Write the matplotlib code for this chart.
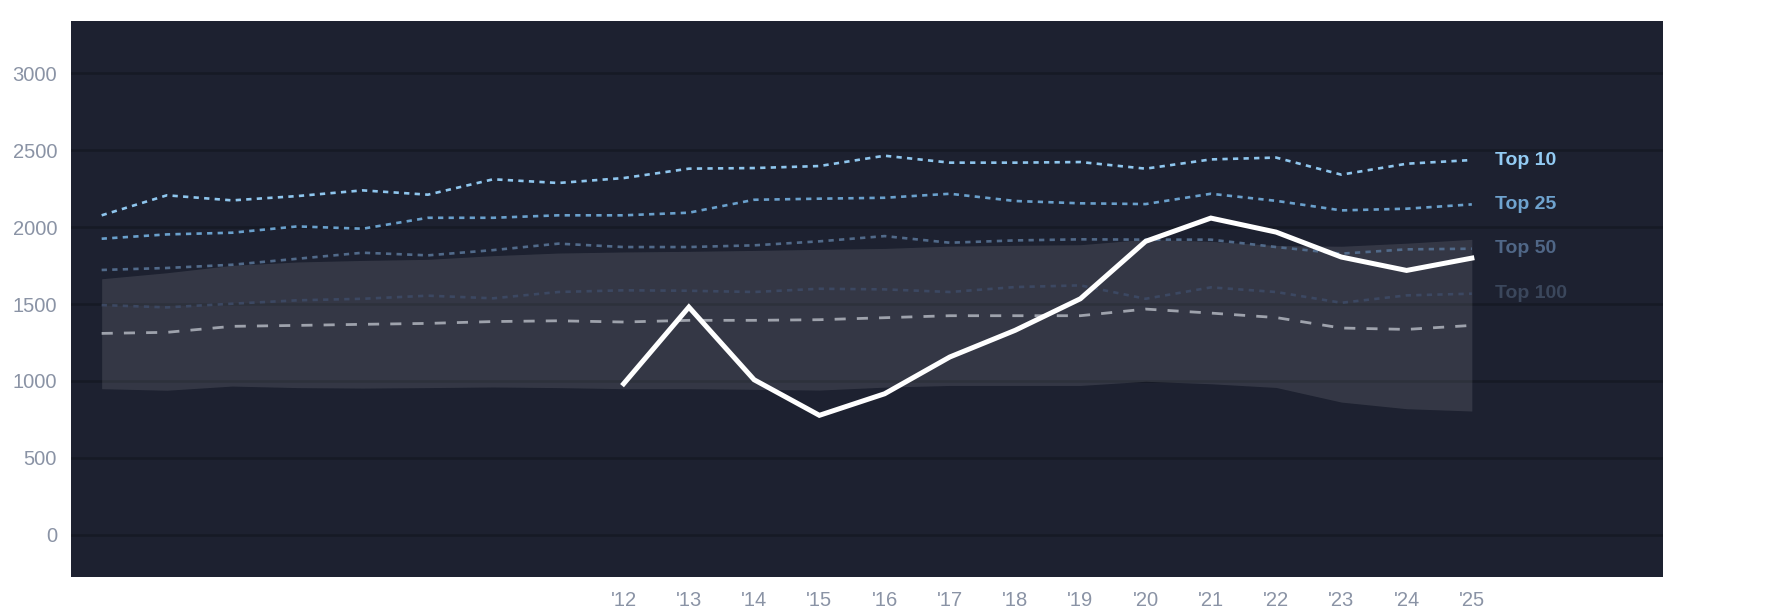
"""
Season totals against league tiers, dark theme line chart.
"""

import matplotlib
matplotlib.use('Agg')
import matplotlib.pyplot as plt

years = list(range(2004, 2026))
top10 = [2076, 2206, 2173, 2201, 2238, 2210, 2310, 2286, 2318, 2379, 2383,
         2396, 2463, 2418, 2418, 2422, 2379, 2439, 2451, 2340, 2411, 2435]
top25 = [1924, 1952, 1963, 2004, 1989, 2060, 2060, 2076, 2076, 2093, 2177,
         2184, 2190, 2216, 2169, 2154, 2149, 2216, 2170, 2108, 2119, 2147]
top50 = [1721, 1734, 1755, 1794, 1833, 1816, 1850, 1892, 1870, 1870, 1881,
         1907, 1941, 1898, 1913, 1920, 1918, 1918, 1870, 1827, 1855, 1859]
top100 = [1493, 1478, 1502, 1524, 1534, 1554, 1537, 1578, 1589, 1586, 1578,
          1599, 1595, 1578, 1610, 1621, 1534, 1608, 1578, 1508, 1556, 1567]
median = [1309, 1316, 1355, 1361, 1368, 1374, 1386, 1391, 1383, 1394, 1394,
          1398, 1411, 1424, 1424, 1424, 1467, 1441, 1412, 1344, 1335, 1361]
band_hi = [1664, 1703, 1751, 1773, 1783, 1790, 1814, 1831, 1838, 1842, 1848,
           1855, 1861, 1876, 1881, 1885, 1920, 1907, 1880, 1875, 1895, 1920]
band_lo = [950, 940, 967, 957, 954, 957, 961, 957, 950, 950, 946,
           941, 960, 971, 971, 971, 998, 982, 958, 863, 820, 805]

player_years = list(range(2012, 2026))
player = [982, 1480, 1008, 777, 917, 1156, 1329, 1534, 1907, 2058, 1967,
          1805, 1718, 1798]

tick_years = list(range(2012, 2026))
tick_labels = ["'%02d" % (y % 100) for y in tick_years]
y_ticks = [0, 500, 1000, 1500, 2000, 2500, 3000]

tiers = [
    ('Top 10', top10, '#8fc6ee', '#93cbf3'),
    ('Top 25', top25, '#6aa0cc', '#6fa3cf'),
    ('Top 50', top50, '#516a8a', '#506787'),
    ('Top 100', top100, '#3c4862', '#3b475c'),
]

plt.rcParams['font.family'] = ['Liberation Sans', 'DejaVu Sans']

fig = plt.figure(figsize=(17.85, 6.14), dpi=100)
ax = fig.add_axes([71 / 1785, 37 / 614, 1592 / 1785, 556 / 614])
ax.set_facecolor('#1d2130')

for yv in y_ticks:
    ax.axhline(yv, color='#161a25', lw=1.8, zorder=0)

ax.fill_between(years, band_lo, band_hi, color='white', alpha=0.1,
                linewidth=0, zorder=1)

for name, vals, line_col, text_col in tiers:
    ax.plot(years, vals, color=line_col, lw=1.9, dashes=(2, 2), zorder=2)
    ax.text(years[-1] + 0.35, vals[-1], name, color=text_col, fontsize=14,
            fontweight='bold', va='center', ha='left', zorder=4)

ax.plot(years, median, color='#9ea2ac', lw=2, dashes=(4, 4), zorder=2)
ax.plot(player_years, player, color='white', lw=3.6, zorder=3,
        solid_joinstyle='miter')

ax.set_xlim(2003.53, 2027.93)
ax.set_ylim(-273, 3338)
ax.set_xticks(tick_years)
ax.set_xticklabels(tick_labels)
ax.set_yticks(y_ticks)
ax.tick_params(length=0, colors='#8a93a5', labelsize=14.5, pad=10)
for spine in ax.spines.values():
    spine.set_visible(False)

fig.savefig('out.png', dpi=100, facecolor='white')
